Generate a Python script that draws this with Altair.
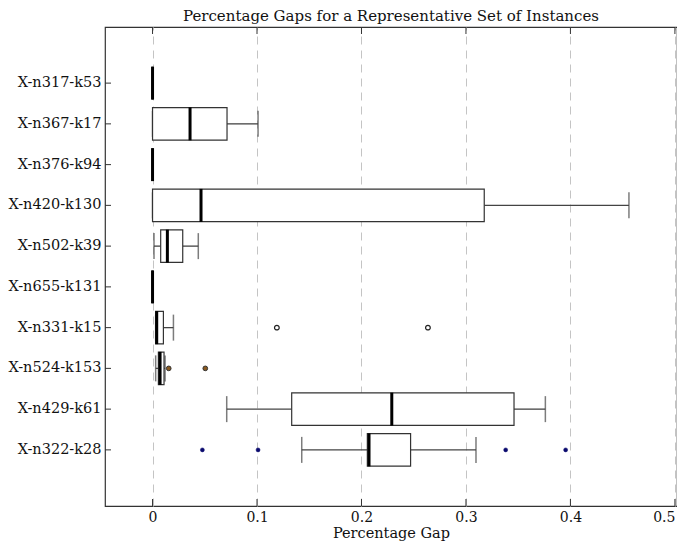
import altair as alt
import pandas as pd

names = ["X-n317-k53", "X-n367-k17", "X-n376-k94", "X-n420-k130", "X-n502-k39",
         "X-n655-k131", "X-n331-k15", "X-n524-k153", "X-n429-k61", "X-n322-k28"]
lower_whisker = [0, 0, 0, 0, 0.0014, 0, 0.003, 0.003, 0.071, 0.1428]
q1 = [0, 0, 0, 0, 0.0078, 0, 0.003, 0.0056, 0.1332, 0.2056]
median = [0, 0.0359, 0, 0.0464, 0.0142, 0, 0.004, 0.0072, 0.229, 0.2072]
q3 = [0, 0.0713, 0, 0.3175, 0.0289, 0, 0.0104, 0.011, 0.346, 0.247]
upper_whisker = [0, 0.101, 0, 0.456, 0.0438, 0, 0.02, 0.012, 0.376, 0.3096]

outliers_n331 = [0.119, 0.2636]
outliers_n524 = [0.0155, 0.0505]
outliers_n322 = [0.0477, 0.101, 0.338, 0.3954]

x_ticks = [0, 0.1, 0.2, 0.3, 0.4, 0.5]

W, H = 572, 479
FONT = "DejaVu Serif"

summary = pd.DataFrame({"name": names, "lo": lower_whisker, "q1": q1,
                        "med": median, "q3": q3, "hi": upper_whisker})
out331 = pd.DataFrame({"name": "X-n331-k15", "v": outliers_n331})
out524 = pd.DataFrame({"name": "X-n524-k153", "v": outliers_n524})
out322 = pd.DataFrame({"name": "X-n322-k28", "v": outliers_n322})
ticks_df = pd.DataFrame({"t": x_ticks})
names_df = pd.DataFrame({"name": names})

xscale = alt.Scale(domain=[-0.0455, 0.502], nice=False, zero=False)
yscale = alt.Scale(domain=names, paddingInner=0.2, paddingOuter=0.977)

X = lambda f: alt.X(f, type="quantitative", scale=xscale,
                    axis=alt.Axis(values=x_ticks, title="Percentage Gap",
                                  grid=True, gridDash=[8, 6], gridColor="#c4c4c4",
                                  gridWidth=1, ticks=False, domain=False,
                                  labelFont=FONT, labelFontSize=14, labelColor="#111",
                                  labelPadding=4, labelFlush=4,
                                  labelExpr="datum.value == 0 ? '0' : format(datum.value, '.1f')",
                                  titleFont=FONT, titleFontSize=14.5, titleFontWeight="normal",
                                  titleColor="#111", titlePadding=2))
Y = alt.Y("name:N", scale=yscale, sort=names,
          axis=alt.Axis(title=None, ticks=False, domain=False, grid=False,
                        labelFont=FONT, labelFontSize=14.5, labelColor="#111",
                        labelPadding=4))

base = alt.Chart(summary)

whisk_lo = base.mark_rule(color="#444", strokeWidth=1.3).encode(x=X("lo"), x2="q1", y=Y)
whisk_hi = base.mark_rule(color="#444", strokeWidth=1.3).encode(x=X("q3"), x2="hi", y=Y)
cap_lo = base.mark_tick(color="#444", thickness=1.5, size=26, orient="vertical").encode(x=X("lo"), y=Y)
cap_hi = base.mark_tick(color="#444", thickness=1.5, size=26, orient="vertical").encode(x=X("hi"), y=Y)
box = base.mark_bar(fill="white", stroke="#333", strokeWidth=1.2).encode(x=X("q1"), x2="q3", y=Y)
med = base.mark_tick(color="black", thickness=3, size=33, orient="vertical", opacity=1).encode(x=X("med"), y=Y)

o331 = alt.Chart(out331).mark_point(shape="circle", filled=True, fill="white",
                                    stroke="#222", strokeWidth=1.2, size=22, opacity=1).encode(x=X("v"), y=Y)
o524 = alt.Chart(out524).mark_point(shape="circle", filled=True, fill="#8a5a20",
                                    stroke="#333", strokeWidth=1, size=22, opacity=1).encode(x=X("v"), y=Y)
o322 = alt.Chart(out322).mark_point(shape="circle", filled=True, fill="#0a0a6e",
                                    stroke="#0a0a6e", strokeWidth=0.5, size=16, opacity=1).encode(x=X("v"), y=Y)

tick_bot = alt.Chart(ticks_df).mark_rule(color="#333", strokeWidth=1).encode(
    x=X("t"), y=alt.value(H), y2=alt.value(H - 7))
tick_top = alt.Chart(ticks_df).mark_rule(color="#333", strokeWidth=1).encode(
    x=X("t"), y=alt.value(0), y2=alt.value(7))
tick_left = alt.Chart(names_df).mark_rule(color="#333", strokeWidth=1).encode(
    y=Y, x=alt.value(0), x2=alt.value(6))

chart = alt.layer(whisk_lo, whisk_hi, cap_lo, cap_hi, box, med, o331, o524, o322,
                  tick_bot, tick_top, tick_left).properties(
    width=W, height=H,
    title=alt.TitleParams("Percentage Gaps for a Representative Set of Instances",
                          font=FONT, fontSize=15, fontWeight="normal", color="#111",
                          anchor="middle", offset=3),
    autosize=alt.AutoSizeParams(type="none"),
    padding={"left": 97, "top": 19, "right": 0, "bottom": 36},
).configure_view(stroke="#333", strokeWidth=1.2)

chart.save("out.html", embed_options={"renderer": "svg", "actions": False})
